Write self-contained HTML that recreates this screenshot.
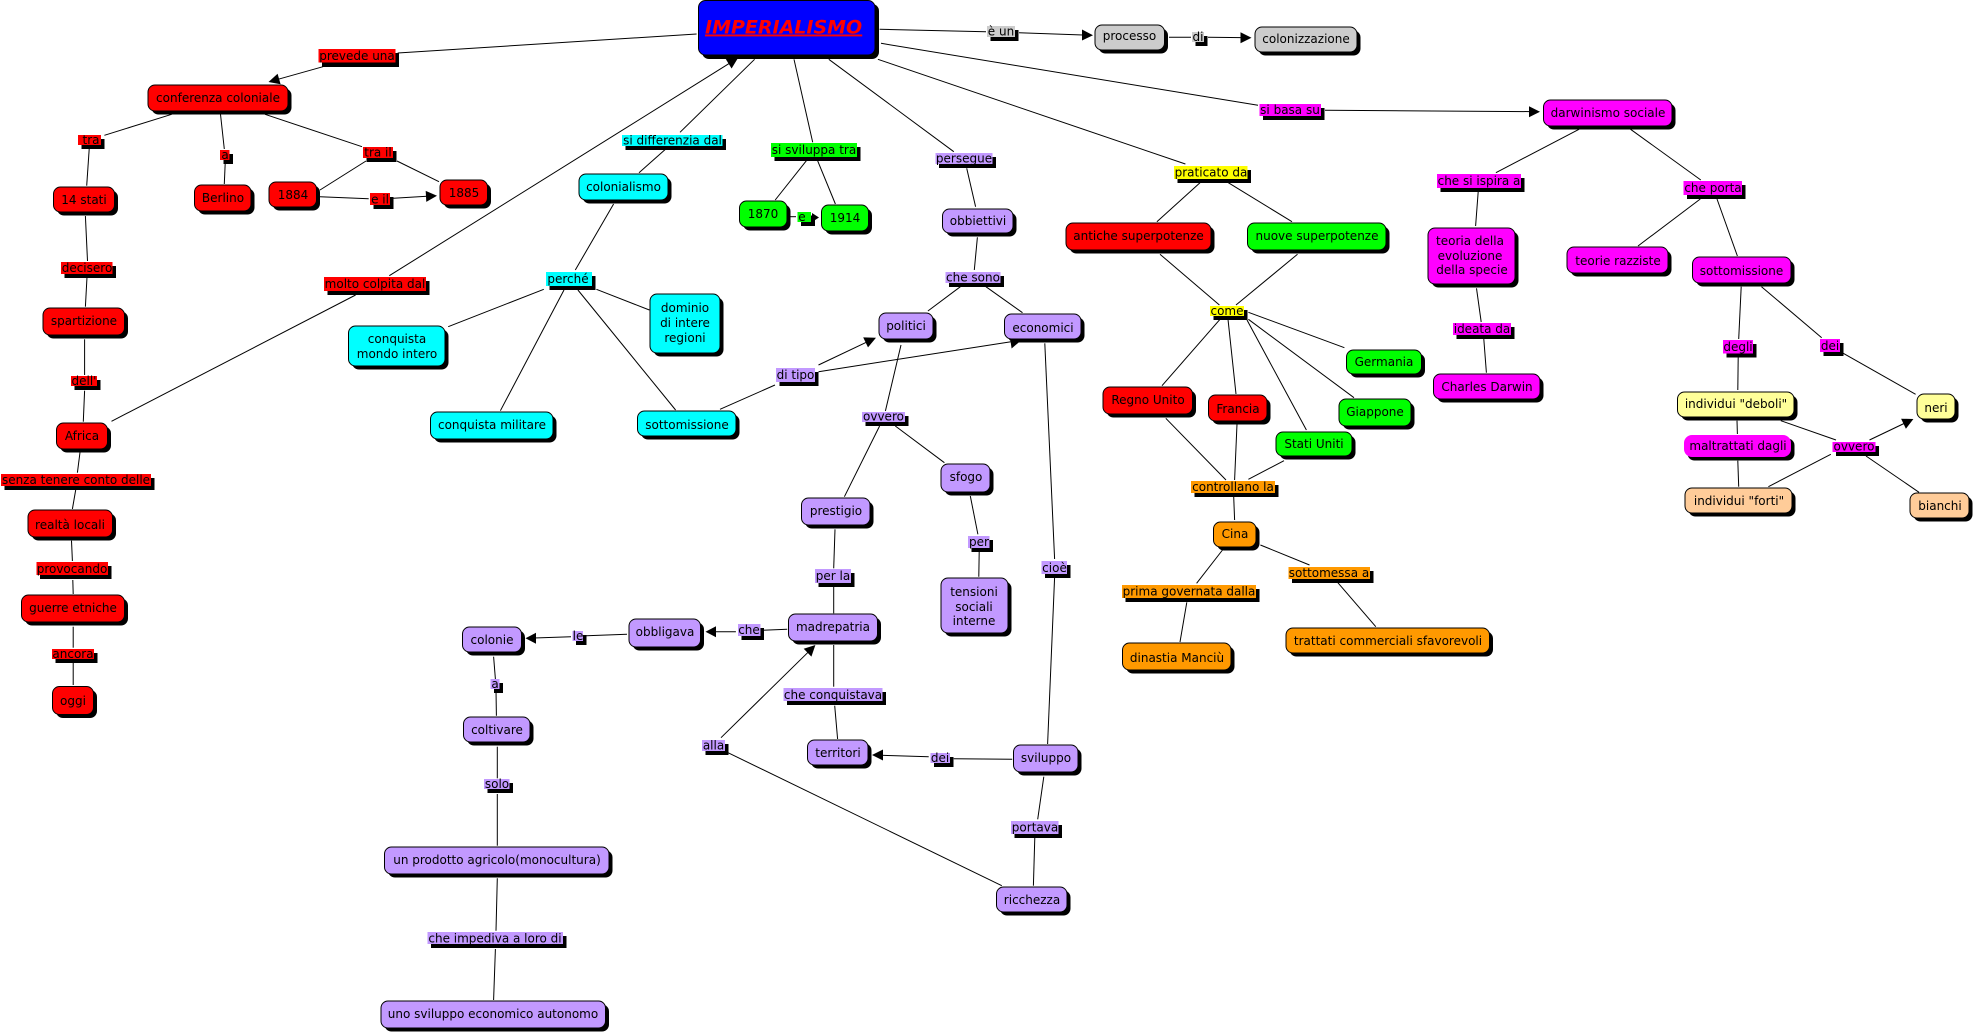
<!DOCTYPE html>
<html><head><meta charset="utf-8"><title>Imperialismo</title>
<style>
html,body{margin:0;padding:0;background:#fff;width:1975px;height:1035px;overflow:hidden}
svg{display:block;filter:blur(0.3px)}
text{font-family:"DejaVu Sans","Liberation Sans",sans-serif;font-size:12px;fill:#000;text-anchor:middle}
.l line{stroke:#000;stroke-width:1}
.s{fill:#000}
.n{stroke:#000;stroke-width:1}
.r{fill:#f00}.c{fill:#0ff}.g{fill:#0f0}.m{fill:#f0f}.p{fill:#c299ff}.y{fill:#ff0}.o{fill:#f90}.a{fill:#ccc}.b{fill:#00f}.ly{fill:#ff9}.lo{fill:#fc9}
</style></head><body>
<svg width="1975" height="1035" viewBox="0 0 1975 1035" xmlns="http://www.w3.org/2000/svg">
<rect width="1975" height="1035" fill="#fff"/>
<g class="l">
<line x1="696.6" y1="34" x2="397.7" y2="53"/><line x1="323" y1="66.7" x2="278" y2="79.3"/>
<line x1="171.7" y1="114.3" x2="104.4" y2="135.3"/><line x1="89.2" y1="149" x2="86.7" y2="185.7"/>
<line x1="220.5" y1="114.3" x2="224.3" y2="149"/><line x1="225.2" y1="163.3" x2="224.3" y2="184"/>
<line x1="265" y1="114.3" x2="362" y2="146.7"/><line x1="366" y1="161" x2="320" y2="190"/>
<line x1="397" y1="161" x2="439" y2="181.7"/><line x1="320" y1="196.7" x2="368.7" y2="198.7"/>
<line x1="393.5" y1="198.3" x2="427" y2="196.3"/><line x1="85.4" y1="216" x2="87.5" y2="261"/>
<line x1="87" y1="277" x2="85.4" y2="306.7"/><line x1="84.6" y1="339.3" x2="84.6" y2="375"/>
<line x1="84.6" y1="390.7" x2="83.3" y2="421.7"/><line x1="111.5" y1="421.3" x2="355.6" y2="295"/>
<line x1="389.3" y1="275.7" x2="729" y2="63.6"/><line x1="680" y1="132.3" x2="754.6" y2="59.3"/>
<line x1="639" y1="172.7" x2="668" y2="147"/><line x1="613.6" y1="204" x2="575.3" y2="270"/>
<line x1="543.8" y1="289.3" x2="448.2" y2="326.7"/><line x1="564" y1="290" x2="500.4" y2="410.7"/>
<line x1="577.9" y1="290" x2="675.6" y2="410"/><line x1="596.4" y1="289.3" x2="649.4" y2="310"/>
<line x1="794" y1="59.3" x2="812.7" y2="142.3"/><line x1="806.4" y1="160.7" x2="775.2" y2="200"/>
<line x1="817.6" y1="160.7" x2="835.4" y2="204"/><line x1="789.5" y1="216.7" x2="796" y2="216.7"/>
<line x1="828.8" y1="59.3" x2="953.8" y2="151.7"/><line x1="966.7" y1="168.3" x2="975.6" y2="206.7"/>
<line x1="977.4" y1="237.3" x2="974.3" y2="270"/><line x1="960.4" y1="286.7" x2="927.9" y2="311"/>
<line x1="985.9" y1="286.7" x2="1022.5" y2="312.7"/><line x1="877.9" y1="59.3" x2="1185.4" y2="164"/>
<line x1="1200" y1="182.7" x2="1156.9" y2="221.7"/><line x1="1228.3" y1="182.7" x2="1292" y2="221.7"/>
<line x1="1160" y1="254.3" x2="1219.4" y2="305"/><line x1="1297.5" y1="254.3" x2="1236" y2="305"/>
<line x1="881" y1="43.3" x2="1258" y2="105.3"/><line x1="1325" y1="110.3" x2="1530" y2="111.6"/>
<line x1="879.6" y1="29.3" x2="986" y2="31.7"/><line x1="1019" y1="32.7" x2="1083" y2="35"/>
<line x1="1169" y1="37.3" x2="1191" y2="37.3"/><line x1="1208" y1="37.3" x2="1241" y2="37.6"/>
<line x1="1248.4" y1="312.3" x2="1344.4" y2="347.7"/><line x1="1220" y1="319.3" x2="1162" y2="385.7"/>
<line x1="1228" y1="319.3" x2="1236" y2="394"/><line x1="1247" y1="320" x2="1306.4" y2="430"/>
<line x1="1248.4" y1="319.3" x2="1354" y2="397.7"/><line x1="1165.8" y1="418.3" x2="1226" y2="480"/>
<line x1="1237" y1="424" x2="1234.6" y2="480"/><line x1="1284" y1="460.7" x2="1248.4" y2="479.3"/>
<line x1="1233.7" y1="496.7" x2="1234.6" y2="520"/><line x1="1222.5" y1="550" x2="1196.6" y2="583.3"/>
<line x1="1260.4" y1="545" x2="1309.5" y2="565"/><line x1="1186.8" y1="602.3" x2="1180" y2="642"/>
<line x1="1337" y1="581.7" x2="1375.8" y2="626.7"/><line x1="1044.8" y1="343.3" x2="1054.6" y2="559"/>
<line x1="1054.6" y1="577.3" x2="1047.6" y2="744"/><line x1="901" y1="345" x2="885.4" y2="411"/>
<line x1="879.6" y1="426" x2="844.4" y2="496.7"/><line x1="895.3" y1="426" x2="944.4" y2="462.7"/>
<line x1="970.3" y1="496" x2="977.9" y2="534.3"/><line x1="979.2" y1="551.7" x2="978.8" y2="576.7"/>
<line x1="835" y1="529.3" x2="833.7" y2="568.3"/><line x1="833.7" y1="586.7" x2="833.7" y2="613.3"/>
<line x1="787.2" y1="629.3" x2="762.7" y2="630.3"/><line x1="735.9" y1="631.7" x2="714" y2="631.7"/>
<line x1="833.7" y1="645" x2="833.7" y2="686.7"/><line x1="834.7" y1="705.7" x2="837.6" y2="739"/>
<line x1="1012.2" y1="759.3" x2="953.7" y2="758.7"/><line x1="928.7" y1="756.7" x2="881" y2="755.3"/>
<line x1="1043.8" y1="776.7" x2="1037.7" y2="819.3"/><line x1="1034.8" y1="837.3" x2="1033.4" y2="885.7"/>
<line x1="1001.8" y1="885.7" x2="728" y2="752.7"/><line x1="721" y1="737.7" x2="808" y2="652.3"/>
<line x1="627" y1="634.3" x2="586.5" y2="635.7"/><line x1="571" y1="636.7" x2="534" y2="638"/>
<line x1="493.6" y1="656.7" x2="495.4" y2="679"/><line x1="496" y1="690" x2="496.4" y2="715.7"/>
<line x1="497.3" y1="746.7" x2="497.3" y2="778.3"/><line x1="497.3" y1="794" x2="497.3" y2="845.7"/>
<line x1="497.3" y1="878.3" x2="496" y2="930.7"/><line x1="495.4" y1="949" x2="493.6" y2="1000"/>
<line x1="80" y1="452.3" x2="77.4" y2="472.7"/><line x1="75.8" y1="489.3" x2="72.4" y2="509"/>
<line x1="71.5" y1="540.7" x2="72.4" y2="561"/><line x1="72.8" y1="580" x2="73.2" y2="594"/>
<line x1="73.2" y1="626.7" x2="73.2" y2="647.7"/><line x1="73.2" y1="662.7" x2="73.2" y2="685"/>
<line x1="1579" y1="129.3" x2="1495.9" y2="172.7"/><line x1="1630.6" y1="129.3" x2="1700.8" y2="180"/>
<line x1="1478.2" y1="191.7" x2="1475.6" y2="226"/><line x1="1476.5" y1="288.3" x2="1481.2" y2="322"/>
<line x1="1483.8" y1="339" x2="1486.4" y2="372.7"/><line x1="1700.3" y1="199" x2="1638" y2="246"/>
<line x1="1717" y1="199" x2="1737.4" y2="256"/><line x1="1741.2" y1="286.7" x2="1738.7" y2="339"/>
<line x1="1738.2" y1="357.3" x2="1737.8" y2="390"/><line x1="1761.5" y1="286.7" x2="1821.7" y2="337.7"/>
<line x1="1843.3" y1="353.3" x2="1915.6" y2="394.3"/><line x1="1737" y1="420.7" x2="1737.4" y2="434"/>
<line x1="1737.8" y1="460.7" x2="1738.7" y2="486.7"/><line x1="1780.8" y1="420.7" x2="1836" y2="440"/>
<line x1="1768.4" y1="486.7" x2="1830.8" y2="454.3"/><line x1="1869.5" y1="440" x2="1904" y2="423.5"/>
<line x1="1866" y1="456" x2="1919" y2="492.3"/>
<line x1="818.5" y1="365" x2="866" y2="342.4"/><line x1="818.5" y1="371.7" x2="1011" y2="341.7"/>
<line x1="720" y1="409.3" x2="775" y2="385"/>
</g>
<g class="s">
<polygon points="268.5,82 280.6,84.3 277.6,73.7"/><polygon points="437,195.7 426.3,201.9 425.7,190.9"/>
<polygon points="1093,35.3 1082,40.5 1082,29.5"/><polygon points="1251.5,37.7 1240.5,43.2 1240.5,32.2"/>
<polygon points="1540,111.7 1529,117.2 1529,106.2"/><polygon points="738,58 731.6,68.5 725.8,59.1"/>
<polygon points="876,337.7 868,347.4 863.2,337.4"/><polygon points="1021.6,340 1011.6,348.5 1009.9,337"/>
<polygon points="1913.4,419 1905.9,428.7 1901.1,418.7"/><polygon points="705.5,631.7 716,637.2 716,626.2"/>
<polygon points="525.5,638.3 536,643.8 536,632.8"/><polygon points="872,755 883,760.5 883,749.5"/>
<polygon points="815.4,645 811.4,656.6 803.7,648.8"/><polygon points="819,217.5 812,213 812,222"/>
</g>

<!-- nodes -->
<g><rect class="s" x="702" y="4" width="177" height="55" rx="7"/><rect class="n b" x="698.5" y="0.5" width="176.5" height="54.5" rx="7"/><text x="705" y="33.5" style="font-size:19px;font-weight:bold;font-style:italic;text-anchor:start;fill:#f00;text-decoration:underline">IMPERIALISMO</text></g>
<g><rect class="s" x="1098.5" y="28.5" width="69.5" height="25" rx="7"/><rect class="n a" x="1095" y="25" width="69.5" height="25" rx="7"/><text x="1129.5" y="40">processo</text></g>
<g><rect class="s" x="1258.5" y="30.5" width="102" height="25" rx="7"/><rect class="n a" x="1255" y="27" width="102" height="25" rx="7"/><text x="1306" y="43">colonizzazione</text></g>
<g><rect class="s" x="151.5" y="88.5" width="140" height="26" rx="7"/><rect class="n r" x="148" y="85" width="140" height="26" rx="7"/><text x="218" y="102">conferenza coloniale</text></g>
<g><rect class="s" x="57" y="190.5" width="61" height="25" rx="7"/><rect class="n r" x="53.5" y="187" width="61" height="25" rx="7"/><text x="84" y="204">14 stati</text></g>
<g><rect class="s" x="198" y="188.5" width="56.5" height="26" rx="7"/><rect class="n r" x="194.5" y="185" width="56.5" height="26" rx="7"/><text x="223" y="202">Berlino</text></g>
<g><rect class="s" x="272.5" y="185.5" width="47.5" height="25" rx="7"/><rect class="n r" x="269" y="182" width="47.5" height="25" rx="7"/><text x="293" y="199">1884</text></g>
<g><rect class="s" x="443.5" y="183.5" width="47.5" height="25" rx="7"/><rect class="n r" x="440" y="180" width="47.5" height="25" rx="7"/><text x="464" y="197">1885</text></g>
<g><rect class="s" x="46.5" y="311.5" width="81.5" height="27" rx="7"/><rect class="n r" x="43" y="308" width="81.5" height="27" rx="7"/><text x="84" y="325">spartizione</text></g>
<g><rect class="s" x="60" y="426.5" width="51" height="26" rx="7"/><rect class="n r" x="56.5" y="423" width="51" height="26" rx="7"/><text x="82" y="440">Africa</text></g>
<g><rect class="s" x="31.5" y="513.5" width="84.5" height="27" rx="7"/><rect class="n r" x="28" y="510" width="84.5" height="27" rx="7"/><text x="70" y="529">realtà locali</text></g>
<g><rect class="s" x="25" y="598.5" width="103" height="27" rx="7"/><rect class="n r" x="21.5" y="595" width="103" height="27" rx="7"/><text x="73" y="612">guerre etniche</text></g>
<g><rect class="s" x="56" y="690" width="41" height="28" rx="7"/><rect class="n r" x="52.5" y="686.5" width="41" height="28" rx="7"/><text x="73" y="705">oggi</text></g>
<g><rect class="s" x="582.5" y="177.5" width="89" height="26" rx="7"/><rect class="n c" x="579" y="174" width="89" height="26" rx="7"/><text x="623.5" y="191">colonialismo</text></g>
<g><rect class="s" x="352" y="329.5" width="96.5" height="40" rx="7"/><rect class="n c" x="348.5" y="326" width="96.5" height="40" rx="7"/><text x="397" y="343">conquista</text><text x="397" y="358">mondo intero</text></g>
<g><rect class="s" x="653.5" y="297.5" width="70" height="59" rx="7"/><rect class="n c" x="650" y="294" width="70" height="59" rx="7"/><text x="685" y="312">dominio</text><text x="685" y="327">di intere</text><text x="685" y="342">regioni</text></g>
<g><rect class="s" x="434" y="415.5" width="122.5" height="27" rx="7"/><rect class="n c" x="430.5" y="412" width="122.5" height="27" rx="7"/><text x="492" y="429">conquista militare</text></g>
<g><rect class="s" x="641" y="414.5" width="98.5" height="25" rx="7"/><rect class="n c" x="637.5" y="411" width="98.5" height="25" rx="7"/><text x="687" y="429">sottomissione</text></g>
<g><rect class="s" x="743" y="204.5" width="47.5" height="26" rx="7"/><rect class="n g" x="739.5" y="201" width="47.5" height="26" rx="7"/><text x="763" y="218">1870</text></g>
<g><rect class="s" x="825" y="208.5" width="47" height="26" rx="7"/><rect class="n g" x="821.5" y="205" width="47" height="26" rx="7"/><text x="845" y="222">1914</text></g>
<g><rect class="s" x="946" y="212.5" width="70.5" height="24" rx="7"/><rect class="n p" x="942.5" y="209" width="70.5" height="24" rx="7"/><text x="978" y="225">obbiettivi</text></g>
<g><rect class="s" x="882.5" y="316.5" width="54" height="26" rx="7"/><rect class="n p" x="879" y="313" width="54" height="26" rx="7"/><text x="906" y="330">politici</text></g>
<g><rect class="s" x="1008" y="317.5" width="76.5" height="25" rx="7"/><rect class="n p" x="1004.5" y="314" width="76.5" height="25" rx="7"/><text x="1043" y="332">economici</text></g>
<g><rect class="s" x="1069.5" y="226.5" width="145" height="27" rx="7"/><rect class="n r" x="1066" y="223" width="145" height="27" rx="7"/><text x="1138.5" y="240">antiche superpotenze</text></g>
<g><rect class="s" x="1251" y="226.5" width="138.5" height="27" rx="7"/><rect class="n g" x="1247.5" y="223" width="138.5" height="27" rx="7"/><text x="1317" y="240">nuove superpotenze</text></g>
<g><rect class="s" x="1350" y="353.5" width="75" height="24" rx="7"/><rect class="n g" x="1346.5" y="350" width="75" height="24" rx="7"/><text x="1384" y="366">Germania</text></g>
<g><rect class="s" x="1342.5" y="402.5" width="72" height="27" rx="7"/><rect class="n g" x="1339" y="399" width="72" height="27" rx="7"/><text x="1375" y="416">Giappone</text></g>
<g><rect class="s" x="1279.5" y="435.5" width="76" height="24" rx="7"/><rect class="n g" x="1276" y="432" width="76" height="24" rx="7"/><text x="1314" y="448">Stati Uniti</text></g>
<g><rect class="s" x="1106.5" y="390.5" width="89.5" height="27" rx="7"/><rect class="n r" x="1103" y="387" width="89.5" height="27" rx="7"/><text x="1148" y="404">Regno Unito</text></g>
<g><rect class="s" x="1212" y="398.5" width="58.5" height="26" rx="7"/><rect class="n r" x="1208.5" y="395" width="58.5" height="26" rx="7"/><text x="1238" y="413">Francia</text></g>
<g><rect class="s" x="1217" y="525.5" width="42.5" height="25" rx="7"/><rect class="n o" x="1213.5" y="522" width="42.5" height="25" rx="7"/><text x="1235" y="538">Cina</text></g>
<g><rect class="s" x="1126" y="646.5" width="108.5" height="27" rx="7"/><rect class="n o" x="1122.5" y="643" width="108.5" height="27" rx="7"/><text x="1177" y="662">dinastia Manciù</text></g>
<g><rect class="s" x="1289.5" y="631.5" width="203.5" height="25" rx="7"/><rect class="n o" x="1286" y="628" width="203.5" height="25" rx="7"/><text x="1388" y="645">trattati commerciali sfavorevoli</text></g>
<g><rect class="s" x="944.5" y="467.5" width="49" height="28" rx="7"/><rect class="n p" x="941" y="464" width="49" height="28" rx="7"/><text x="966" y="481">sfogo</text></g>
<g><rect class="s" x="805" y="501.5" width="68.5" height="27" rx="7"/><rect class="n p" x="801.5" y="498" width="68.5" height="27" rx="7"/><text x="836" y="515">prestigio</text></g>
<g><rect class="s" x="944.5" y="581.5" width="67" height="55" rx="7"/><rect class="n p" x="941" y="578" width="67" height="55" rx="7"/><text x="974" y="596">tensioni</text><text x="974" y="611">sociali</text><text x="974" y="625">interne</text></g>
<g><rect class="s" x="792" y="617.5" width="89" height="27" rx="7"/><rect class="n p" x="788.5" y="614" width="89" height="27" rx="7"/><text x="833" y="631">madrepatria</text></g>
<g><rect class="s" x="632.5" y="622.5" width="71.5" height="28" rx="7"/><rect class="n p" x="629" y="619" width="71.5" height="28" rx="7"/><text x="665" y="636">obbligava</text></g>
<g><rect class="s" x="466" y="630.5" width="59" height="25" rx="7"/><rect class="n p" x="462.5" y="627" width="59" height="25" rx="7"/><text x="492" y="644">colonie</text></g>
<g><rect class="s" x="467" y="720.5" width="66.5" height="25" rx="7"/><rect class="n p" x="463.5" y="717" width="66.5" height="25" rx="7"/><text x="497" y="734">coltivare</text></g>
<g><rect class="s" x="388" y="850.5" width="224.5" height="27" rx="7"/><rect class="n p" x="384.5" y="847" width="224.5" height="27" rx="7"/><text x="497" y="864">un prodotto agricolo(monocultura)</text></g>
<g><rect class="s" x="384.5" y="1004.5" width="224.5" height="27" rx="7"/><rect class="n p" x="381" y="1001" width="224.5" height="27" rx="7"/><text x="493" y="1018">uno sviluppo economico autonomo</text></g>
<g><rect class="s" x="811" y="743.5" width="60.5" height="25" rx="7"/><rect class="n p" x="807.5" y="740" width="60.5" height="25" rx="7"/><text x="838" y="757">territori</text></g>
<g><rect class="s" x="1017" y="748.5" width="64.5" height="27" rx="7"/><rect class="n p" x="1013.5" y="745" width="64.5" height="27" rx="7"/><text x="1046" y="762">sviluppo</text></g>
<g><rect class="s" x="1000" y="890.5" width="70.5" height="25" rx="7"/><rect class="n p" x="996.5" y="887" width="70.5" height="25" rx="7"/><text x="1032" y="904">ricchezza</text></g>
<g><rect class="s" x="1547" y="103.5" width="128.5" height="26" rx="7"/><rect class="n m" x="1543.5" y="100" width="128.5" height="26" rx="7"/><text x="1608" y="117">darwinismo sociale</text></g>
<g><rect class="s" x="1431.5" y="231.5" width="87" height="56" rx="7"/><rect class="n m" x="1428" y="228" width="87" height="56" rx="7"/><text x="1470" y="245">teoria della</text><text x="1470" y="260">evoluzione</text><text x="1472" y="274">della specie</text></g>
<g><rect class="s" x="1570.5" y="250.5" width="101" height="26" rx="7"/><rect class="n m" x="1567" y="247" width="101" height="26" rx="7"/><text x="1618" y="265">teorie razziste</text></g>
<g><rect class="s" x="1696" y="260.5" width="98.5" height="26" rx="7"/><rect class="n m" x="1692.5" y="257" width="98.5" height="26" rx="7"/><text x="1741.5" y="275">sottomissione</text></g>
<g><rect class="s" x="1437" y="377.5" width="106.5" height="25" rx="7"/><rect class="n m" x="1433.5" y="374" width="106.5" height="25" rx="7"/><text x="1487" y="391">Charles Darwin</text></g>
<g><rect class="s" x="1681" y="395.5" width="116.5" height="25" rx="7"/><rect class="n ly" x="1677.5" y="392" width="116.5" height="25" rx="7"/><text x="1736" y="408">individui "deboli"</text></g>
<g><rect class="s" x="1920.5" y="397.5" width="38" height="25" rx="7"/><rect class="n ly" x="1917" y="394" width="38" height="25" rx="7"/><text x="1936" y="412">neri</text></g>
<g><rect class="s" x="1687.5" y="438.5" width="107" height="22" rx="7"/><rect class="m" x="1684" y="435" width="107" height="22" rx="8"/><text x="1738" y="450">maltrattati dagli</text></g>
<g><rect class="s" x="1688.5" y="491.5" width="107" height="25" rx="7"/><rect class="n lo" x="1685" y="488" width="107" height="25" rx="7"/><text x="1739" y="505">individui "forti"</text></g>
<g><rect class="s" x="1913.5" y="496.5" width="59" height="25" rx="7"/><rect class="n lo" x="1910" y="493" width="59" height="25" rx="7"/><text x="1940" y="510">bianchi</text></g>

<!-- labels -->
<g><rect class="s" x="322" y="53" width="77" height="14"/><rect class="r" x="318.5" y="49" width="77" height="13.5"/><text x="357" y="60">prevede una</text></g>
<g><rect class="s" x="81.5" y="139" width="23" height="10"/><rect class="r" x="78" y="135" width="23" height="10"/><text x="91" y="144">tra</text></g>
<g><rect class="s" x="223.5" y="154" width="9.5" height="10"/><rect class="r" x="220" y="150" width="9.5" height="10"/><text x="225" y="159">a</text></g>
<g><rect class="s" x="366.5" y="151" width="30" height="11"/><rect class="r" x="363" y="147" width="30" height="11"/><text x="378" y="156.5">tra il</text></g>
<g><rect class="s" x="373.5" y="197" width="20" height="12"/><rect class="r" x="370" y="193" width="20" height="12"/><text x="380" y="203.5">e il</text></g>
<g><rect class="s" x="64.5" y="266" width="51.5" height="12"/><rect class="r" x="61" y="262" width="51.5" height="12"/><text x="87" y="272">decisero</text></g>
<g><rect class="s" x="327.5" y="281" width="102" height="14"/><rect class="r" x="324" y="277" width="102" height="14"/><text x="375" y="288">molto colpita dal</text></g>
<g><rect class="s" x="74.5" y="380" width="26" height="10"/><rect class="r" x="71" y="376" width="26" height="10"/><text x="84" y="385">dell'</text></g>
<g><rect class="s" x="4.5" y="478" width="150" height="12"/><rect class="r" x="1" y="474" width="150" height="12"/><text x="76" y="484">senza tenere conto delle</text></g>
<g><rect class="s" x="40" y="566" width="71.5" height="13"/><rect class="r" x="36.5" y="562" width="71.5" height="13"/><text x="72" y="573">provocando</text></g>
<g><rect class="s" x="55.5" y="653" width="42" height="10"/><rect class="r" x="52" y="649" width="42" height="10"/><text x="73" y="658">ancora</text></g>
<g><rect class="s" x="625.5" y="139" width="100.5" height="11"/><rect class="c" x="622" y="135" width="100.5" height="11"/><text x="672.5" y="144.5">si differenzia dal</text></g>
<g><rect class="s" x="549.5" y="276" width="46" height="14"/><rect class="c" x="546" y="272" width="46" height="14"/><text x="568" y="283">perché</text></g>
<g><rect class="s" x="774.5" y="147" width="86" height="14"/><rect class="g" x="771" y="143" width="86" height="14"/><text x="814" y="154">si sviluppa tra</text></g>
<g><rect class="s" x="801" y="215.5" width="14" height="10.5"/><rect class="g" x="797.5" y="212" width="13.5" height="10"/><text x="802" y="221">e</text></g>
<g><rect class="s" x="939" y="157" width="57" height="11"/><rect class="p" x="935.5" y="153" width="57" height="11"/><text x="964" y="162.5">persegue</text></g>
<g><rect class="s" x="1177.5" y="170" width="73.5" height="13"/><rect class="y" x="1174" y="166" width="73.5" height="13"/><text x="1211" y="176.5">praticato da</text></g>
<g><rect class="s" x="990.5" y="30" width="28" height="11"/><rect class="a" x="987" y="26" width="28" height="11"/><text x="1001" y="35.5">è un</text></g>
<g><rect class="s" x="1195.5" y="36" width="12" height="10"/><rect class="a" x="1192" y="32" width="12" height="10"/><text x="1198" y="41">di</text></g>
<g><rect class="s" x="1263" y="108" width="61.5" height="12"/><rect class="m" x="1259.5" y="104" width="61.5" height="12"/><text x="1290" y="114">si basa su</text></g>
<g><rect class="s" x="949" y="276" width="55" height="11"/><rect class="p" x="945.5" y="272" width="55" height="11"/><text x="973" y="281.5">che sono</text></g>
<g><rect class="s" x="1213.5" y="310" width="34" height="10"/><rect class="y" x="1210" y="306" width="34" height="10"/><text x="1227" y="315">come</text></g>
<g><rect class="s" x="779.5" y="372" width="39" height="14"/><rect class="p" x="776" y="368" width="39" height="14"/><text x="795.5" y="379">di tipo</text></g>
<g><rect class="s" x="865.5" y="416" width="43" height="10"/><rect class="p" x="862" y="412" width="43" height="10"/><text x="883.5" y="420.5">ovvero</text></g>
<g><rect class="s" x="1194.5" y="485" width="84" height="12"/><rect class="o" x="1191" y="481" width="84" height="12"/><text x="1233" y="491">controllano la</text></g>
<g><rect class="s" x="971.5" y="540" width="21.5" height="12"/><rect class="p" x="968" y="536" width="21.5" height="12"/><text x="979" y="546">per</text></g>
<g><rect class="s" x="818.5" y="573" width="36" height="14"/><rect class="p" x="815" y="569" width="36" height="14"/><text x="833" y="580">per la</text></g>
<g><rect class="s" x="1045" y="565" width="25.5" height="13"/><rect class="p" x="1041.5" y="561" width="25.5" height="13"/><text x="1054.5" y="572">cioè</text></g>
<g><rect class="s" x="1125.5" y="589" width="134" height="13"/><rect class="o" x="1122" y="585" width="134" height="13"/><text x="1189" y="595.5">prima governata dalla</text></g>
<g><rect class="s" x="1292" y="571" width="81.5" height="12"/><rect class="o" x="1288.5" y="567" width="81.5" height="12"/><text x="1329" y="577">sottomessa a</text></g>
<g><rect class="s" x="741.5" y="628" width="22.5" height="12"/><rect class="p" x="738" y="624" width="22.5" height="12"/><text x="749" y="634">che</text></g>
<g><rect class="s" x="576" y="635" width="10.5" height="10"/><rect class="p" x="572.5" y="631" width="10.5" height="10"/><text x="578" y="640">le</text></g>
<g><rect class="s" x="494" y="683" width="9" height="10"/><rect class="p" x="490.5" y="679" width="9" height="10"/><text x="495" y="688">a</text></g>
<g><rect class="s" x="487.5" y="783" width="25.5" height="10"/><rect class="p" x="484" y="779" width="25.5" height="10"/><text x="497" y="788">solo</text></g>
<g><rect class="s" x="431" y="936" width="135.5" height="12"/><rect class="p" x="427.5" y="932" width="135.5" height="12"/><text x="495" y="942.5">che impediva a loro di</text></g>
<g><rect class="s" x="787" y="692" width="99" height="13"/><rect class="p" x="783.5" y="688" width="99" height="13"/><text x="833" y="699">che conquistava</text></g>
<g><rect class="s" x="705.5" y="744" width="23" height="11"/><rect class="p" x="702" y="740" width="23" height="11"/><text x="713.5" y="749.5">alla</text></g>
<g><rect class="s" x="934" y="757" width="19.5" height="10"/><rect class="p" x="930.5" y="753" width="19.5" height="10"/><text x="940" y="762">dei</text></g>
<g><rect class="s" x="1014.5" y="825" width="47.5" height="13"/><rect class="p" x="1011" y="821" width="47.5" height="13"/><text x="1035" y="831.5">portava</text></g>
<g><rect class="s" x="1440.5" y="178" width="84" height="14"/><rect class="m" x="1437" y="174" width="84" height="14"/><text x="1479" y="185">che si ispira a</text></g>
<g><rect class="s" x="1687" y="185" width="58.5" height="14"/><rect class="m" x="1683.5" y="181" width="58.5" height="14"/><text x="1713" y="192">che porta</text></g>
<g><rect class="s" x="1456.5" y="327" width="58" height="12"/><rect class="m" x="1453" y="323" width="58" height="12"/><text x="1482" y="333">ideata da</text></g>
<g><rect class="s" x="1726.5" y="344" width="30" height="13.5"/><rect class="m" x="1723" y="340" width="30" height="13.5"/><text x="1738" y="351">degli</text></g>
<g><rect class="s" x="1823.5" y="343" width="20" height="13"/><rect class="m" x="1820" y="339" width="20" height="13"/><text x="1830" y="350">dei</text></g>
<g><rect class="s" x="1836" y="446" width="43" height="10"/><rect class="m" x="1832.5" y="442" width="43" height="10"/><text x="1854" y="450.5">ovvero</text></g>
</svg>
</body></html>
